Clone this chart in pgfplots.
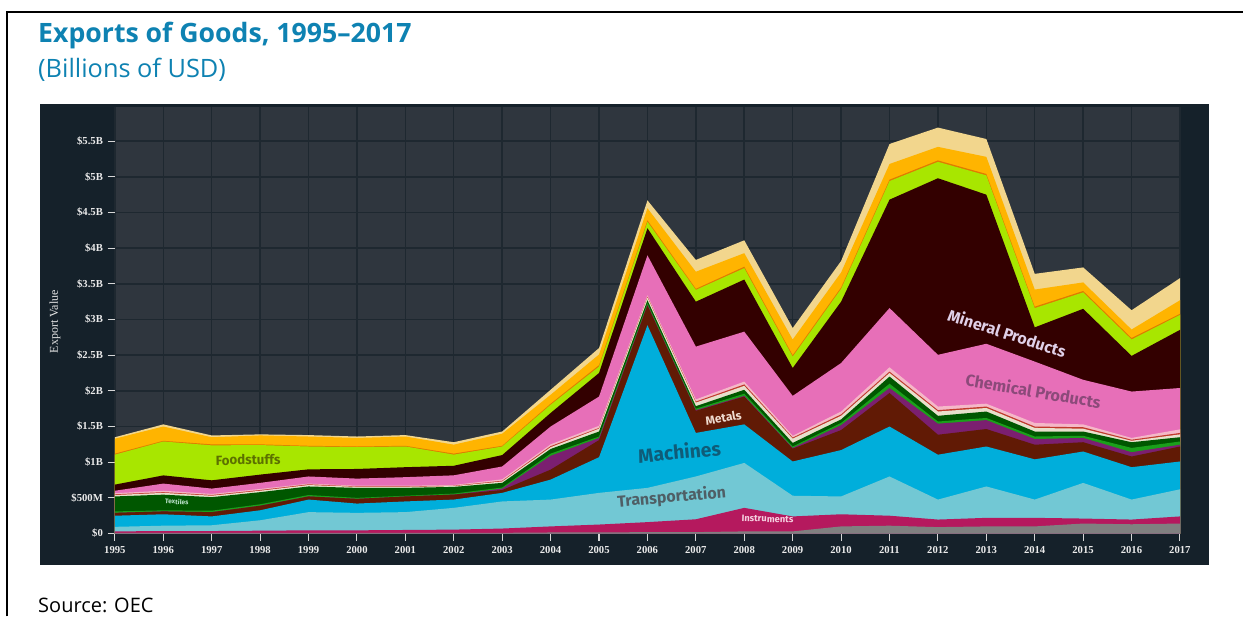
\documentclass[border=0pt]{standalone}
\usepackage{fontspec}
\usepackage{pgfplots}
\usepackage{pgfplotstable}
\pgfplotsset{compat=1.18}
\setmainfont{Open Sans}
\newfontfamily\serif{Liberation Serif}
\newfontfamily\fira{Fira Sans}

\definecolor{titleblue}{RGB}{14,130,178}
\definecolor{panel}{RGB}{21,33,42}
\definecolor{plotbg}{RGB}{47,54,62}
\definecolor{gridc}{RGB}{30,40,48}
\definecolor{tickc}{RGB}{215,215,215}
\definecolor{cgray}{RGB}{128,128,128}
\definecolor{cinstr}{RGB}{181,25,94}
\definecolor{ctransp}{RGB}{114,200,212}
\definecolor{cmach}{RGB}{0,174,219}
\definecolor{cmetals}{RGB}{97,26,5}
\definecolor{cpurple}{RGB}{123,31,112}
\definecolor{cgreen}{RGB}{26,160,26}
\definecolor{ctext}{RGB}{0,87,0}
\definecolor{cbeige}{RGB}{232,224,204}
\definecolor{cred}{RGB}{192,57,43}
\definecolor{clpink}{RGB}{245,184,200}
\definecolor{cchem}{RGB}{231,111,184}
\definecolor{cmin}{RGB}{51,0,0}
\definecolor{cfood}{RGB}{168,230,0}
\definecolor{cdorange}{RGB}{224,123,0}
\definecolor{camber}{RGB}{255,180,0}
\definecolor{ctan}{RGB}{242,214,141}

\pgfplotstableread{
year gray instr transp mach metals purple green textiles beige red lpink chem mineral food dorange amber tan
1995 0.01 0.03 0.094 0.25 0.29 0.29 0.31 0.52 0.54 0.55 0.565 0.60 0.686 1.106 1.12 1.33 1.35
1996 0.01 0.035 0.11 0.27 0.31 0.31 0.325 0.545 0.57 0.58 0.60 0.70 0.815 1.29 1.30 1.50 1.53
1997 0.01 0.035 0.116 0.24 0.30 0.30 0.32 0.51 0.53 0.54 0.555 0.63 0.746 1.236 1.25 1.35 1.375
1998 0.01 0.04 0.186 0.326 0.39 0.39 0.41 0.58 0.60 0.61 0.625 0.71 0.826 1.24 1.25 1.375 1.39
1999 0.01 0.045 0.30 0.476 0.52 0.52 0.54 0.66 0.68 0.69 0.70 0.80 0.90 1.22 1.23 1.36 1.38
2000 0.01 0.045 0.29 0.42 0.486 0.486 0.50 0.64 0.655 0.66 0.67 0.77 0.905 1.21 1.22 1.34 1.36
2001 0.01 0.05 0.30 0.45 0.52 0.52 0.53 0.64 0.655 0.66 0.67 0.79 0.93 1.22 1.23 1.36 1.38
2002 0.01 0.055 0.36 0.476 0.546 0.546 0.56 0.654 0.665 0.67 0.68 0.816 0.95 1.106 1.12 1.246 1.28
2003 0.01 0.07 0.45 0.57 0.61 0.63 0.645 0.71 0.73 0.74 0.76 0.94 1.10 1.22 1.23 1.40 1.43
2004 0.015 0.10 0.476 0.756 0.896 1.09 1.12 1.185 1.21 1.225 1.25 1.50 1.69 1.805 1.82 1.945 2.015
2005 0.015 0.126 0.57 1.07 1.31 1.34 1.36 1.43 1.47 1.48 1.51 1.92 2.25 2.34 2.36 2.51 2.60
2006 0.02 0.16 0.64 2.92 3.20 3.21 3.23 3.27 3.31 3.32 3.34 3.90 4.28 4.37 4.39 4.56 4.67
2007 0.02 0.20 0.80 1.41 1.72 1.73 1.75 1.785 1.835 1.85 1.88 2.62 3.25 3.415 3.43 3.67 3.835
2008 0.03 0.36 0.99 1.53 1.92 1.93 1.96 2.015 2.07 2.09 2.13 2.83 3.56 3.72 3.74 3.93 4.11
2009 0.03 0.24 0.53 1.01 1.19 1.20 1.22 1.27 1.33 1.345 1.37 1.93 2.32 2.48 2.50 2.72 2.88
2010 0.10 0.27 0.52 1.17 1.45 1.52 1.55 1.60 1.65 1.67 1.71 2.39 3.25 3.43 3.45 3.66 3.82
2011 0.11 0.25 0.80 1.50 1.97 2.04 2.10 2.20 2.25 2.27 2.33 3.16 4.68 4.94 4.96 5.18 5.46
2012 0.09 0.196 0.476 1.105 1.385 1.54 1.57 1.65 1.71 1.73 1.78 2.505 4.98 5.21 5.23 5.42 5.69
2013 0.10 0.22 0.66 1.22 1.465 1.59 1.62 1.71 1.76 1.78 1.82 2.66 4.75 5.02 5.04 5.28 5.53
2014 0.10 0.22 0.476 1.04 1.245 1.325 1.36 1.43 1.48 1.50 1.55 2.41 2.89 3.16 3.18 3.42 3.64
2015 0.14 0.21 0.71 1.15 1.28 1.34 1.37 1.43 1.47 1.49 1.53 2.155 3.15 3.38 3.40 3.52 3.73
2016 0.13 0.196 0.476 0.93 1.08 1.14 1.20 1.28 1.30 1.315 1.34 1.99 2.49 2.72 2.74 2.86 3.13
2017 0.14 0.24 0.62 1.01 1.22 1.245 1.29 1.35 1.39 1.41 1.46 2.04 2.855 3.065 3.08 3.27 3.58
}\data

\begin{document}
\begin{tikzpicture}[x=0.75pt,y=0.75pt]
\path[fill=white] (0,0) rectangle (1244,617);
\draw[black, line width=1.6pt] (7,0) -- (7,605) -- (1244,605);
\fill[panel] (40,52) rectangle (1210,513);
\node[anchor=base west, text=titleblue, font=\fontsize{20}{23}\selectfont\bfseries, inner sep=0pt] at (38,574) {Exports of Goods, 1995–2017};
\node[anchor=base west, text=titleblue, font=\fontsize{19}{22}\selectfont, inner sep=0pt] at (38,539) {(Billions of USD)};
\node[anchor=base west, text=black, font=\fontsize{15}{17}\selectfont, inner sep=0pt] at (38,4) {Source: OEC};
\node[rotate=90, text=white!90!black, font=\serif\fontsize{9}{10}\selectfont] at (55,295) {Export Value};

\begin{axis}[
  at={(86.25pt,62.25pt)}, anchor=south west, scale only axis,
  width=799.5pt, height=320.25pt,
  xmin=1995, xmax=2017, ymin=0, ymax=5.98,
  axis background/.style={fill=plotbg},
  grid=major, major grid style={draw=gridc, line width=1.1pt},
  axis x line*=bottom, axis y line*=left,
  x axis line style={draw=cgray, line width=0.8pt},
  y axis line style={draw=none},
  xtick={1995,...,2017},
  xticklabels={1995,1996,1997,1998,1999,2000,2001,2002,2003,2004,2005,2006,2007,2008,2009,2010,2011,2012,2013,2014,2015,2016,2017},
  ytick={0,0.5,...,5.5},
  yticklabels={\$0,\$500M,\$1B,\$1.5B,\$2B,\$2.5B,\$3B,\$3.5B,\$4B,\$4.5B,\$5B,\$5.5B},
  tick align=outside, major tick length=5.5pt,
  every tick/.style={draw=tickc, line width=0.8pt},
  tick label style={font=\serif\bfseries\fontsize{8}{9}\selectfont, text=white!92!black},
  xticklabel style={yshift=-1pt},
]
\addplot[fill=ctan, draw=none] table[x=year,y=tan] {\data} \closedcycle;
\addplot[fill=camber, draw=none] table[x=year,y=amber] {\data} \closedcycle;
\addplot[fill=cdorange, draw=none] table[x=year,y=dorange] {\data} \closedcycle;
\addplot[fill=cfood, draw=none] table[x=year,y=food] {\data} \closedcycle;
\addplot[fill=cmin, draw=none] table[x=year,y=mineral] {\data} \closedcycle;
\addplot[fill=cchem, draw=none] table[x=year,y=chem] {\data} \closedcycle;
\addplot[fill=clpink, draw=none] table[x=year,y=lpink] {\data} \closedcycle;
\addplot[fill=cred, draw=none] table[x=year,y=red] {\data} \closedcycle;
\addplot[fill=cbeige, draw=none] table[x=year,y=beige] {\data} \closedcycle;
\addplot[fill=ctext, draw=none] table[x=year,y=textiles] {\data} \closedcycle;
\addplot[fill=cgreen, draw=none] table[x=year,y=green] {\data} \closedcycle;
\addplot[fill=cpurple, draw=none] table[x=year,y=purple] {\data} \closedcycle;
\addplot[fill=cmetals, draw=none] table[x=year,y=metals] {\data} \closedcycle;
\addplot[fill=cmach, draw=none] table[x=year,y=mach] {\data} \closedcycle;
\addplot[fill=ctransp, draw=none] table[x=year,y=transp] {\data} \closedcycle;
\addplot[fill=cinstr, draw=none] table[x=year,y=instr] {\data} \closedcycle;
\addplot[fill=cgray, draw=none] table[x=year,y=gray] {\data} \closedcycle;

\node[font=\fira\bfseries\fontsize{10}{12}\selectfont, text={rgb,255:red,92;green,112;blue,0}, rotate=1] at (axis cs:1997.75,1.036) {Foodstuffs};
\node[font=\fira\bfseries\fontsize{5}{6}\selectfont, text={rgb,255:red,184;green,224;blue,200}, rotate=-5] at (axis cs:1996.28,0.448) {Textiles};
\node[font=\fira\bfseries\fontsize{14.5}{16}\selectfont, text={rgb,255:red,15;green,92;blue,120}, rotate=5.5] at (axis cs:2006.66,1.15) {Machines};
\node[font=\fira\bfseries\fontsize{12}{14}\selectfont, text={rgb,255:red,79;green,95;blue,102}, rotate=5] at (axis cs:2006.5,0.504) {Transportation};
\node[font=\fira\bfseries\fontsize{9}{10}\selectfont, text={rgb,255:red,240;green,220;blue,208}, rotate=10] at (axis cs:2007.57,1.62) {Metals};
\node[font=\fira\bfseries\fontsize{7}{8}\selectfont, text={rgb,255:red,245;green,208;blue,224}, rotate=-2] at (axis cs:2008.48,0.205) {Instruments};
\node[font=\fira\bfseries\fontsize{12}{14}\selectfont, text={rgb,255:red,224;green,208;blue,232}, rotate=-18, inner sep=0pt] at (axis cs:2013.43,2.81) {Mineral Products};
\node[font=\fira\bfseries\fontsize{12.2}{14}\selectfont, text={rgb,255:red,140;green,74;blue,122}, rotate=-9.5, inner sep=0pt] at (axis cs:2013.97,2.0) {Chemical Products};
\end{axis}
\end{tikzpicture}
\end{document}
